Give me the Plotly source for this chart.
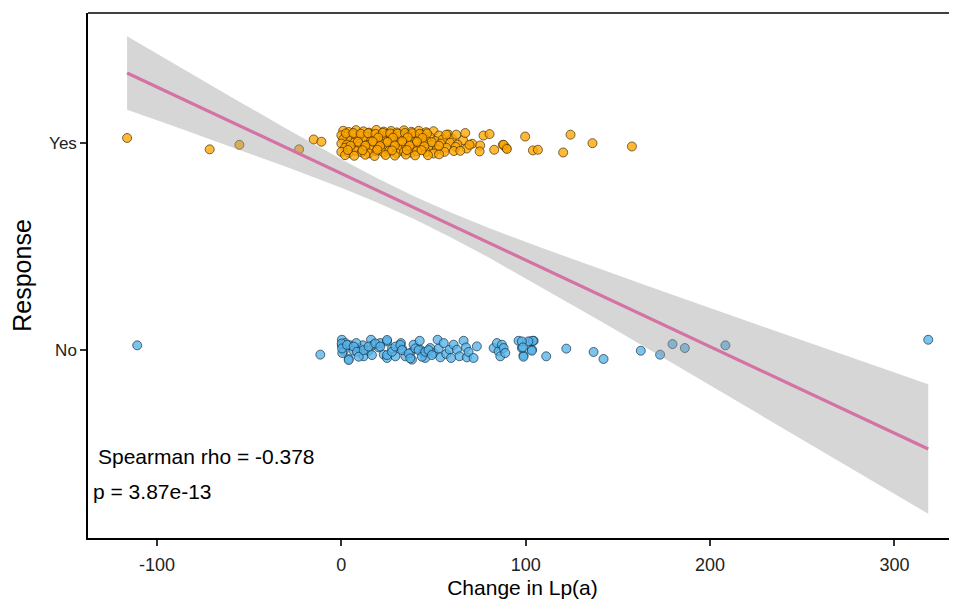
import plotly.graph_objects as go

# ---- data ----
YES_X = [1, 4, 8, 12, 15, 19, 23, 27, 30, 34, 38, 42, 46, 50,
         0, 3, 6, 10, 14, 17, 21, 25, 29, 32, 36, 40, 44, 48, 53, 58,
         1, 5, 8, 12, 16, 19, 23, 27, 31, 35, 38, 42, 46, 51, 55, 60, 66,
         0, 3, 7, 10, 14, 18, 22, 25, 29, 33, 37, 41, 45, 49, 54, 59, 63, 71,
         2, 5, 9, 13, 16, 20, 24, 28, 32, 35, 39, 43, 47, 52, 57, 62, 68,
         0, 4, 8, 11, 15, 19, 23, 26, 30, 34, 38, 41, 46, 50, 56, 61,
         2, 7, 13, 18, 24, 29, 35, 40, 47, 53,
         2.5, 6.5, 10.5, 14.5, 18.5, 22.5, 26.5, 30.5, 34.5, 38.5, 42.5, 46.5,
         20, 28, 36, 44, 9, 17, 25, 33, 41, 49, 5, 13, 21, 29, 37, 45, 53,
         3.5, 11.5, 19.5, 27.5, 35.5, 43.5,
         -116.2, -71.4, -55.3, -22.9, -15.0, -10.8, 56.9, 62.3, 67.2, 77.1, 80.4, 75.3, 75.0,
         82.9, 87.6, 89.4, 64.5, 69.5, 88.0, 89.8, 99.7, 103.9, 106.6, 120.3, 124.3, 136.2, 157.6]
YES_Y = [2.058, 2.052, 2.061, 2.055, 2.049, 2.062, 2.054, 2.057, 2.050, 2.060, 2.053, 2.058, 2.051, 2.056,
         2.036, 2.031, 2.040, 2.034, 2.029, 2.038, 2.033, 2.041, 2.030, 2.036, 2.039, 2.032, 2.037, 2.028, 2.035, 2.040,
         2.016, 2.011, 2.020, 2.014, 2.009, 2.018, 2.013, 2.021, 2.010, 2.017, 2.012, 2.019, 2.015, 2.008, 2.016, 2.020, 2.012,
         1.996, 1.991, 2.000, 1.994, 1.989, 1.998, 1.993, 2.001, 1.990, 1.997, 1.992, 1.999, 1.995, 1.988, 1.996, 2.000, 1.991, 1.995,
         1.976, 1.971, 1.980, 1.974, 1.969, 1.978, 1.973, 1.981, 1.970, 1.977, 1.972, 1.979, 1.975, 1.968, 1.976, 1.980, 1.972,
         1.956, 1.951, 1.960, 1.954, 1.949, 1.958, 1.953, 1.961, 1.950, 1.957, 1.952, 1.959, 1.955, 1.948, 1.956, 1.960,
         1.940, 1.937, 1.942, 1.936, 1.941, 1.938, 1.943, 1.939, 1.940, 1.944,
         2.045, 2.047, 2.044, 2.046, 2.043, 2.048, 2.045, 2.044, 2.047, 2.046, 2.043, 2.045,
         2.025, 2.024, 2.026, 2.023, 2.005, 2.006, 2.004, 2.007, 2.005, 2.003, 1.985, 1.986, 1.984, 1.987, 1.985, 1.983, 1.986,
         1.965, 1.964, 1.966, 1.963, 1.965, 1.964,
         2.023, 1.968, 1.990, 1.968, 2.016, 2.005, 2.039, 2.039, 2.047, 2.035, 2.042, 1.987, 1.958,
         1.966, 1.990, 1.975, 1.961, 1.990, 1.990, 1.970, 2.030, 1.963, 1.966, 1.953, 2.039, 1.998, 1.982]

NO_X = [0.3, 0.3, 1.3, 4.0, 4.9, 6.7, 9.4, 11.7, 12.1, 14.8, 16.1, 17.5, 20.2, 21.1, 24.8, 23.0, 24.8,
        27.5, 29.3, 32.3, 32.9, 34.7, 37.4, 38.3, 39.2, 42.5, 42.8, 44.6, 45.5, 48.2, 50.1, 52.2, 52.8,
        53.7, 55.5, 56.9, 58.7, 59.5, 60.9, 62.7, 64.1, 66.3, 67.6, 68.1, 69.0, 71.7, 73.5, 82.6, 84.4,
        85.3, 86.2, 87.1, 88.0, 88.9, 96.1, 97.9, 98.8, 102.5, 103.4, 104.3, 0.5, 2.2, 8.1,
        0.2, 0.4, 3.1, 4.0, 6.7, 8.5, 9.4, 12.1, 14.8, 16.6, 18.4, 21.1, 24.8, 24.8, 27.5, 29.3, 32.0,
        32.9, 36.5, 37.4, 40.1, 41.9, 43.7, 45.5, 47.3, 49.1,
        -110.7, -11.4, 111.1, 122.0, 136.8, 142.2, 162.4, 172.9, 179.6, 186.3, 208.3, 318.3,
        98.8, 103.3, 103.9, 101.4, 97.9, 98.5]
NO_Y = [1.048, 1.021, 0.995, 0.955, 1.021, 0.995, 1.008, 1.021, 0.968, 0.995, 1.048, 1.024, 1.011, 1.032, 1.040, 0.976, 0.960,
        1.005, 0.968, 1.032, 1.005, 0.968, 0.984, 0.952, 1.024, 1.043, 1.000, 0.984, 0.960, 1.008, 0.984, 1.048, 1.005,
        0.963, 1.032, 0.979, 1.000, 0.960, 1.024, 1.000, 0.968, 1.043, 1.011, 0.963, 0.989, 0.960, 1.016, 1.008, 1.032,
        0.992, 0.968, 1.024, 1.008, 0.984, 1.043, 1.008, 0.973, 1.040, 1.000, 1.043, 0.984, 1.032, 1.032,
        1.030, 1.006, 1.023, 0.950, 1.015, 0.990, 0.966, 0.998, 1.015, 0.974, 1.030, 1.015, 1.047, 0.974, 0.990, 1.015, 1.023,
        0.998, 0.982, 0.958, 1.006, 0.998, 0.966, 0.990, 0.998, 0.974,
        1.021, 0.976, 0.968, 1.005, 0.989, 0.955, 0.995, 0.976, 1.027, 1.008, 1.021, 1.048,
        0.966, 0.995, 1.043, 1.040, 1.040, 1.011]

FIT_X = [-116.2, 318.3]
FIT_Y = [2.337, 0.520]

BAND_X = [-116.2, -90, -60, -30, 0, 20, 40, 60, 80, 110, 140, 170, 200, 230, 260, 290, 318.3]
BAND_UP = [2.515, 2.378, 2.2225, 2.069, 1.920, 1.826, 1.739, 1.660, 1.588, 1.4876, 1.3906, 1.2955, 1.2012, 1.1074, 1.014, 0.9207, 0.833]
BAND_LO = [2.159, 2.077, 1.9815, 1.884, 1.782, 1.709, 1.629, 1.540, 1.445, 1.2946, 1.1406, 0.9849, 0.8282, 0.6710, 0.5136, 0.3559, 0.207]

Y_TICKS = [1, 2]
Y_LABELS = ["No", "Yes"]
X_TICKS = [-100, 0, 100, 200, 300]
X_LABELS = ["-100", "0", "100", "200", "300"]

FONT = "Liberation Sans, Arial, Helvetica, sans-serif"

fig = go.Figure()
fig.add_trace(go.Scatter(x=NO_X, y=NO_Y, mode="markers",
                         marker=dict(size=9, color="rgba(86,180,233,0.78)",
                                     line=dict(width=0.9, color="rgba(20,40,60,0.75)")),
                         showlegend=False, hoverinfo="skip"))
fig.add_trace(go.Scatter(x=YES_X, y=YES_Y, mode="markers",
                         marker=dict(size=9, color="rgba(255,165,0,0.78)",
                                     line=dict(width=0.9, color="rgba(60,40,0,0.75)")),
                         showlegend=False, hoverinfo="skip"))
fig.add_trace(go.Scatter(x=BAND_X + BAND_X[::-1], y=BAND_UP + BAND_LO[::-1],
                         fill="toself", fillcolor="rgba(153,153,153,0.4)",
                         line=dict(width=0), mode="lines", showlegend=False, hoverinfo="skip"))
fig.add_trace(go.Scatter(x=FIT_X, y=FIT_Y, mode="lines",
                         line=dict(color="#D473A3", width=3.2), showlegend=False, hoverinfo="skip"))

fig.add_annotation(x=-133.0, y=0.483, xref="x", yref="y", text="Spearman rho = -0.378",
                   showarrow=False, xanchor="left", yanchor="middle",
                   font=dict(family=FONT, size=21, color="black"))
fig.add_annotation(x=-135.6, y=0.314, xref="x", yref="y", text="p = 3.87e-13",
                   showarrow=False, xanchor="left", yanchor="middle",
                   font=dict(family=FONT, size=21, color="black"))

fig.add_shape(type="line", xref="paper", yref="paper", x0=0, x1=1, y0=1, y1=1,
              line=dict(color="black", width=1.5))

# the page body adds an 8px offset, so the figure is 8px smaller and margins shifted
fig.update_layout(
    width=949, height=594,
    margin=dict(l=80, r=0, t=5, b=64),
    paper_bgcolor="white", plot_bgcolor="white",
    font=dict(family=FONT, color="black"),
    xaxis=dict(range=[-137.4, 333.9], tickvals=X_TICKS, ticktext=X_LABELS, ticks="outside", ticklen=6,
               tickwidth=1.5, tickcolor="#333", showline=True, linecolor="black", linewidth=1.5,
               showgrid=False, zeroline=False, tickfont=dict(size=18, color="#222"), automargin=False,
               ticklabelstandoff=4,
               title=dict(text="Change in Lp(a)", font=dict(size=21), standoff=6)),
    yaxis=dict(range=[0.090, 2.627], tickvals=Y_TICKS, ticktext=Y_LABELS, ticks="outside",
               ticklen=6, tickwidth=1.5, tickcolor="#333", showline=True, linecolor="black",
               linewidth=1.5, showgrid=False, zeroline=False, tickfont=dict(size=17, color="#222"),
               automargin=False,
               title=dict(text="Response", font=dict(size=25), standoff=12)),
)

fig.write_html("out.html")
